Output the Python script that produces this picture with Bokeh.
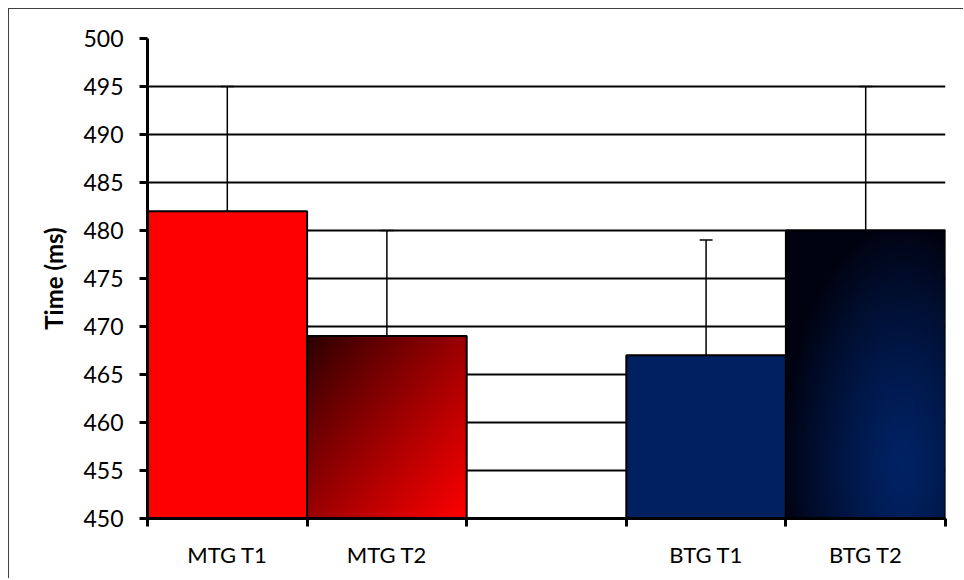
import numpy as np
from bokeh.plotting import figure
from bokeh.models import Range1d, FixedTicker, Whisker, ColumnDataSource, TeeHead
from bokeh.embed import file_html
from bokeh.resources import INLINE

# ---- data ----
labels = ["MTG T1", "MTG T2", "BTG T1", "BTG T2"]
slots = [0, 1, 3, 4]            # category slot (slot 2 is an empty gap)
means = [482, 469, 467, 480]
errors = [13, 11, 12, 15]
y_ticks = [450, 455, 460, 465, 470, 475, 480, 485, 490, 495, 500]
y_base = 450

FONT = "Lato"

p = figure(width=955, height=570, output_backend="svg", toolbar_location=None,
           x_range=Range1d(0, 5), y_range=Range1d(450, 500),
           min_border_left=138, min_border_right=19, min_border_top=29, min_border_bottom=61)
p.outline_line_color = None
p.styles = {"margin-left": "8px", "margin-top": "8px",
            "border-left": "1px solid #404040", "border-top": "1px solid #404040"}

# grid
p.xgrid.grid_line_color = None
p.ygrid.grid_line_color = "black"
p.ygrid.grid_line_width = 2

# y axis
p.yaxis.ticker = FixedTicker(ticks=y_ticks)
p.yaxis.axis_line_width = 3
p.yaxis.major_tick_line_width = 3
p.yaxis.major_tick_out = 8
p.yaxis.major_tick_in = 0
p.yaxis.minor_tick_line_color = None
p.yaxis.major_label_text_font = FONT
p.yaxis.major_label_text_font_size = "23px"
p.yaxis.major_label_text_color = "black"
p.yaxis.major_label_standoff = 16
p.yaxis.axis_label = "Time (ms)"
p.yaxis.axis_label_text_font = FONT
p.yaxis.axis_label_text_font_style = "bold"
p.yaxis.axis_label_text_font_size = "24px"
p.yaxis.axis_label_text_color = "black"
p.yaxis.axis_label_standoff = 12

# x axis
centers = [s + 0.5 for s in slots]
p.xaxis.ticker = FixedTicker(ticks=centers, minor_ticks=[0, 1, 2, 3, 4, 5])
p.xaxis.major_label_overrides = {c: l for c, l in zip(centers, labels)}
p.xaxis.axis_line_width = 3
p.xaxis.major_tick_line_color = None
p.xaxis.major_tick_out = 8
p.xaxis.minor_tick_line_width = 3
p.xaxis.minor_tick_out = 8
p.xaxis.minor_tick_in = 0
p.xaxis.major_label_text_font = FONT
p.xaxis.major_label_text_font_size = "22px"
p.xaxis.major_label_text_color = "black"
p.xaxis.major_label_standoff = 14


def lerp(c0, c1, t):
    t = np.clip(t, 0, 1)[..., None]
    return np.array(c0) * (1 - t) + np.array(c1) * t


def to_rgba(arr):
    h, w, _ = arr.shape
    img = np.empty((h, w), dtype=np.uint32)
    v = img.view(dtype=np.uint8).reshape((h, w, 4))
    v[..., 0:3] = np.round(arr).astype(np.uint8)
    v[..., 3] = 255
    return img


nx, ny = 160, 200
xf = np.linspace(0, 1, nx)[None, :].repeat(ny, 0)
yf_top = 1 - np.linspace(0, 1, ny)[:, None].repeat(nx, 1)  # row 0 is bottom

# MTG T2: diagonal linear gradient dark -> red
t_lin = (xf + yf_top) / 2
grad_red = to_rgba(lerp((40, 0, 0), (255, 0, 0), t_lin ** 0.9))

# BTG T2: radial gradient navy centre -> near black edges
d = np.sqrt(((xf - 0.72) / 0.75) ** 2 + ((yf_top - 0.82) / 0.85) ** 2)
grad_blue = to_rgba(lerp((0, 33, 98), (0, 2, 16), d ** 1.4))

styles = ["solid", "grad_red", "solid", "grad_blue"]
solid_colors = ["#FF0000", None, "#002060", None]
images = {"grad_red": grad_red, "grad_blue": grad_blue}

for s, m, st, col in zip(slots, means, styles, solid_colors):
    if st == "solid":
        p.quad(left=[s], right=[s + 1], bottom=[y_base], top=[m],
               fill_color=col, line_color="black", line_width=2)
    else:
        p.image_rgba(image=[images[st]], x=[s], y=[y_base], dw=[1], dh=[m - y_base])
        p.quad(left=[s], right=[s + 1], bottom=[y_base], top=[m],
               fill_color=None, line_color="black", line_width=2)

src = ColumnDataSource(data=dict(x=centers, lower=means,
                                 upper=[m + e for m, e in zip(means, errors)]))
w = Whisker(base="x", lower="lower", upper="upper", source=src, dimension="height",
            line_color="black", line_width=1.5, lower_head=None,
            upper_head=TeeHead(size=13, line_color="black", line_width=1.5))
p.add_layout(w)

open("out.html", "w").write(file_html(p, INLINE))
